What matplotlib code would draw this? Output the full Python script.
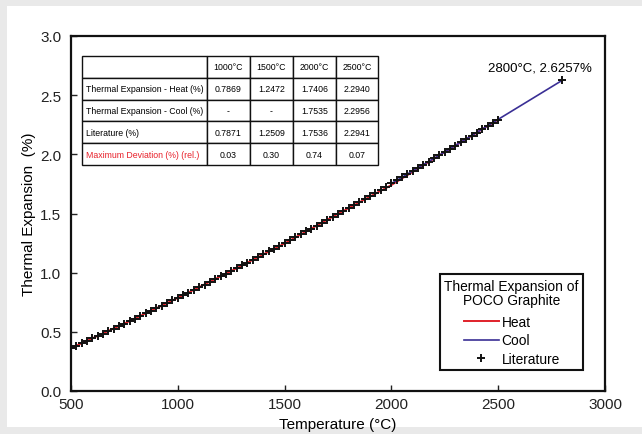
import matplotlib
matplotlib.use("Agg")
import matplotlib.pyplot as plt
from matplotlib.patches import Rectangle
from matplotlib.lines import Line2D
from matplotlib.offsetbox import VPacker, DrawingArea

plt.rcParams['font.family'] = ['Liberation Sans', 'DejaVu Sans']

# ---- data ----
lit_T = list(range(500, 2501, 25)) + [2800]
lit_val = [0.3622, 0.3825, 0.4029, 0.4234, 0.4441, 0.4648, 0.4856, 0.5065, 0.5276, 0.5486,
           0.5698, 0.5911, 0.6125, 0.6340, 0.6555, 0.6772, 0.6990, 0.7209, 0.7429, 0.7649,
           0.7871, 0.8094, 0.8317, 0.8542, 0.8767, 0.8994, 0.9222, 0.9450, 0.9680, 0.9910,
           1.0141, 1.0374, 1.0607, 1.0841, 1.1077, 1.1313, 1.1551, 1.1789, 1.2028, 1.2268,
           1.2509, 1.2751, 1.2994, 1.3238, 1.3484, 1.3729, 1.3976, 1.4224, 1.4473, 1.4723,
           1.4974, 1.5226, 1.5479, 1.5733, 1.5987, 1.6243, 1.6500, 1.6758, 1.7016, 1.7276,
           1.7536, 1.7798, 1.8060, 1.8324, 1.8588, 1.8854, 1.9120, 1.9388, 1.9656, 1.9925,
           2.0196, 2.0467, 2.0740, 2.1013, 2.1288, 2.1563, 2.1839, 2.2117, 2.2395, 2.2674,
           2.2941, 2.6257]

heat_T = [500, 750, 1000, 1250, 1500, 1750, 2000, 2250, 2500]
heat_val = [0.3622, 0.5698, 0.7869, 1.0141, 1.2472, 1.4974, 1.7406, 2.0196, 2.2940]
cool_T = [2000, 2250, 2500, 2800]
cool_val = [1.7535, 2.0200, 2.2956, 2.6257]

table_cols = ['', '1000°C', '1500°C', '2000°C', '2500°C']
table_rows = [
    ['Thermal Expansion - Heat (%)', '0.7869', '1.2472', '1.7406', '2.2940'],
    ['Thermal Expansion - Cool (%)', '-', '-', '1.7535', '2.2956'],
    ['Literature (%)', '0.7871', '1.2509', '1.7536', '2.2941'],
    ['Maximum Deviation (%) (rel.)', '0.03', '0.30', '0.74', '0.07'],
]

# ---- figure ----
W, H = 642, 435
fig = plt.figure(figsize=(W / 100, H / 100), dpi=100, facecolor='#e9e9e9')
bg = Rectangle((7 / W, 7 / H), 1 - 7 / W, 1 - 14 / H,
               transform=fig.transFigure, facecolor='white',
               edgecolor='none', zorder=-10)
fig.add_artist(bg)

ax = fig.add_axes([71 / W, (H - 392) / H, (605 - 71) / W, (392 - 37) / H])
ax.set_zorder(1)
ax.set_facecolor('white')
ax.set_xlim(500, 3000)
ax.set_ylim(0, 3.0)
ax.set_xticks([500, 1000, 1500, 2000, 2500, 3000])
ax.set_yticks([0.0, 0.5, 1.0, 1.5, 2.0, 2.5, 3.0])
ax.set_yticklabels(['0.0', '0.5', '1.0', '1.5', '2.0', '2.5', '3.0'])
ax.tick_params(direction='in', length=4, width=1, labelsize=11, colors='#222222')
ax.tick_params(axis='x', pad=4)
ax.tick_params(axis='y', pad=7)
for s in ax.spines.values():
    s.set_linewidth(1.6)
    s.set_color('#111111')

ax.set_xlabel('Temperature (°C)', fontsize=11, labelpad=5)
ax.set_ylabel('Thermal Expansion  (%)', fontsize=11, labelpad=3)

ax.plot(heat_T, heat_val, color='#e0202a', lw=1.4, zorder=2)
ax.plot(cool_T, cool_val, color='#3a2f95', lw=1.2, zorder=3)
ax.plot(lit_T, lit_val, ls='none', marker='+', ms=6, mew=1.4, color='#111111', zorder=4)

ax.annotate('2800°C, 2.6257%', xy=(lit_T[-1], lit_val[-1]), xytext=(-22, 13),
            textcoords='offset pixels', ha='center', va='center', fontsize=9.5)

# ---- table ----
x0 = (82 - 71) / 534
x1 = (378 - 71) / 534
ytop = (392 - 57) / 355
ybot = (392 - 166) / 355
widths = [125, 43, 43, 43, 42]
tbl = ax.table(cellText=[table_cols] + table_rows,
               colWidths=[w / sum(widths) for w in widths],
               bbox=[x0, ybot, x1 - x0, ytop - ybot], zorder=5)
tbl.auto_set_font_size(False)
tbl.set_fontsize(6.3)
for (r, c), cell in tbl.get_celld().items():
    cell.set_linewidth(1.0)
    cell.set_edgecolor('#111111')
    cell.set_facecolor('white')
    txt = cell.get_text()
    if c == 0:
        cell._loc = 'left'
        txt.set_ha('left')
        cell.PAD = 0.03
    else:
        txt.set_ha('center')
        cell._loc = 'center'
    if r == 4 and c == 0:
        txt.set_color('#e8202a')

# ---- legend ----
handles = [Line2D([], [], color='#e0202a', lw=1.4),
           Line2D([], [], color='#3a2f95', lw=1.2),
           Line2D([], [], ls='none', marker='+', ms=6, mew=1.4, color='#111111')]
leg = ax.legend(handles, ['Heat', 'Cool', 'Literature'],
                title='Thermal Expansion of\nPOCO Graphite',
                loc='lower right', bbox_to_anchor=((583 - 71) / 534, (392 - 371) / 355),
                borderaxespad=0,
                fontsize=9.9, title_fontsize=9.9, fancybox=False, framealpha=1,
                edgecolor='#111111', handlelength=2.55, handletextpad=0.22,
                labelspacing=0.32, borderpad=0.3, alignment='center')
leg.get_title().set_multialignment('center')
leg.get_title().set_linespacing(1.0)
leg.get_frame().set_linewidth(1.5)
try:
    lb = leg._legend_box
    tb = lb._children[0]
    lb._children[0] = VPacker(pad=0, sep=0, align='center',
                              children=[tb, DrawingArea(1, 3)])
except Exception:
    pass

fig.savefig('out.png', dpi=100, facecolor=fig.get_facecolor())
